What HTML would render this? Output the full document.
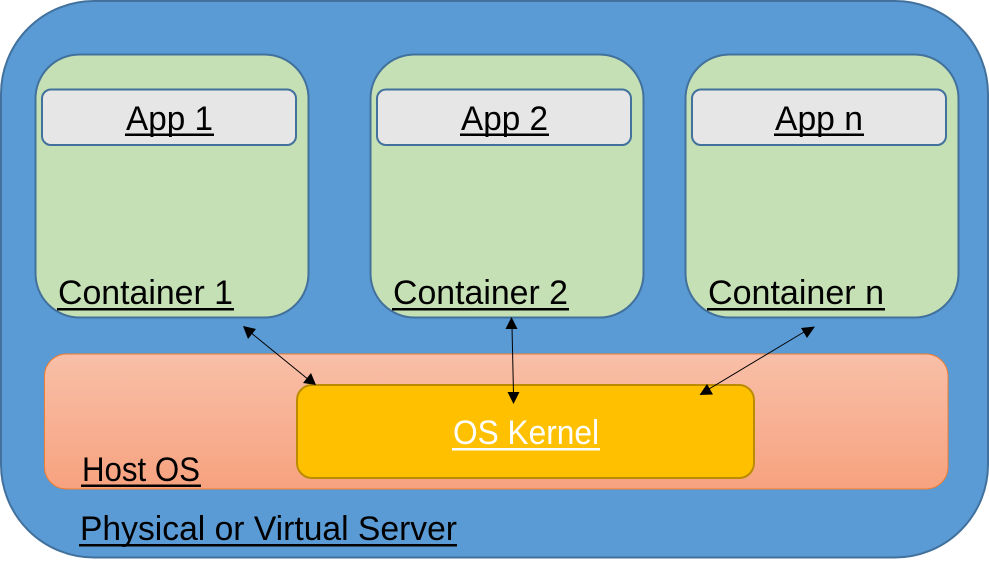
<!DOCTYPE html>
<html>
<head>
<meta charset="utf-8">
<style>
html,body{margin:0;padding:0;background:#fff;width:989px;height:573px;overflow:hidden}
svg{display:block}
text{font-family:"Liberation Sans",sans-serif;font-size:34px;fill:#000}
</style>
</head>
<body>
<svg width="989" height="573" viewBox="0 0 989 573" xmlns="http://www.w3.org/2000/svg">
<defs>
<linearGradient id="g" x1="0" y1="0" x2="0" y2="1">
<stop offset="0" stop-color="#f8bfa8"/>
<stop offset="1" stop-color="#f7a27f"/>
</linearGradient>
</defs>
<rect x="1" y="1" width="987" height="556.5" rx="93" ry="93" fill="#5b9bd5" stroke="#41719c" stroke-width="2"/>

<rect x="35.5" y="54.5" width="273" height="263" rx="44" ry="44" fill="#c5e0b4" stroke="#41719c" stroke-width="2"/>
<rect x="370.5" y="54.5" width="273" height="263" rx="44" ry="44" fill="#c5e0b4" stroke="#41719c" stroke-width="2"/>
<rect x="685.5" y="54.5" width="273" height="263" rx="44" ry="44" fill="#c5e0b4" stroke="#41719c" stroke-width="2"/>

<rect x="42" y="89.5" width="254" height="55.5" rx="9" ry="9" fill="#e7e6e6" stroke="#41719c" stroke-width="2"/>
<rect x="377" y="89.5" width="254" height="55.5" rx="9" ry="9" fill="#e7e6e6" stroke="#41719c" stroke-width="2"/>
<rect x="692" y="89.5" width="254" height="55.5" rx="9" ry="9" fill="#e7e6e6" stroke="#41719c" stroke-width="2"/>

<rect x="44.5" y="354" width="903.5" height="135" rx="22" ry="22" fill="url(#g)" stroke="#ed7d31" stroke-width="1"/>
<rect x="297" y="385" width="457" height="93" rx="15" ry="15" fill="#ffc000" stroke="#bc8c00" stroke-width="2"/>

<text x="126" y="130" textLength="87" lengthAdjust="spacingAndGlyphs">App 1</text>
<rect x="125" y="133.5" width="89" height="2.5" fill="#000"/>
<text x="461" y="130" textLength="87" lengthAdjust="spacingAndGlyphs">App 2</text>
<rect x="460" y="133.5" width="89" height="2.5" fill="#000"/>
<text x="775" y="130" textLength="88" lengthAdjust="spacingAndGlyphs">App n</text>
<rect x="774" y="133.5" width="90" height="2.5" fill="#000"/>

<text x="58" y="304" textLength="175" lengthAdjust="spacingAndGlyphs">Container 1</text>
<rect x="57" y="308" width="177" height="2.5" fill="#000"/>
<text x="393" y="304" textLength="175" lengthAdjust="spacingAndGlyphs">Container 2</text>
<rect x="392" y="308" width="177" height="2.5" fill="#000"/>
<text x="708" y="304" textLength="176" lengthAdjust="spacingAndGlyphs">Container n</text>
<rect x="707" y="308" width="178" height="2.5" fill="#000"/>

<text x="453" y="444" textLength="146" lengthAdjust="spacingAndGlyphs" style="fill:#fff">OS Kernel</text>
<rect x="452" y="448" width="148" height="2.5" fill="#fff"/>

<text x="82" y="481" textLength="118" lengthAdjust="spacingAndGlyphs">Host OS</text>
<rect x="81" y="484.5" width="120" height="2.5" fill="#000"/>

<text x="80" y="540" textLength="377" lengthAdjust="spacingAndGlyphs">Physical or Virtual Server</text>
<rect x="79" y="544" width="378" height="2.5" fill="#000"/>

<g stroke="#000" stroke-width="1" fill="none">
<line x1="250" y1="332" x2="309" y2="380"/>
<line x1="512" y1="327" x2="513.5" y2="394"/>
<line x1="804" y1="332" x2="709" y2="389"/>
</g>
<g fill="#000">
<polygon points="243,326 256,329 248,339"/>
<polygon points="316,385 303,383 311,373"/>
<polygon points="511.5,317 517.5,329 505.5,329"/>
<polygon points="513.5,404 507.5,392 519.5,392"/>
<polygon points="815,326.5 807,338 801,328"/>
<polygon points="699.5,395 707,384 713,394.5"/>
</g>
</svg>
</body>
</html>
